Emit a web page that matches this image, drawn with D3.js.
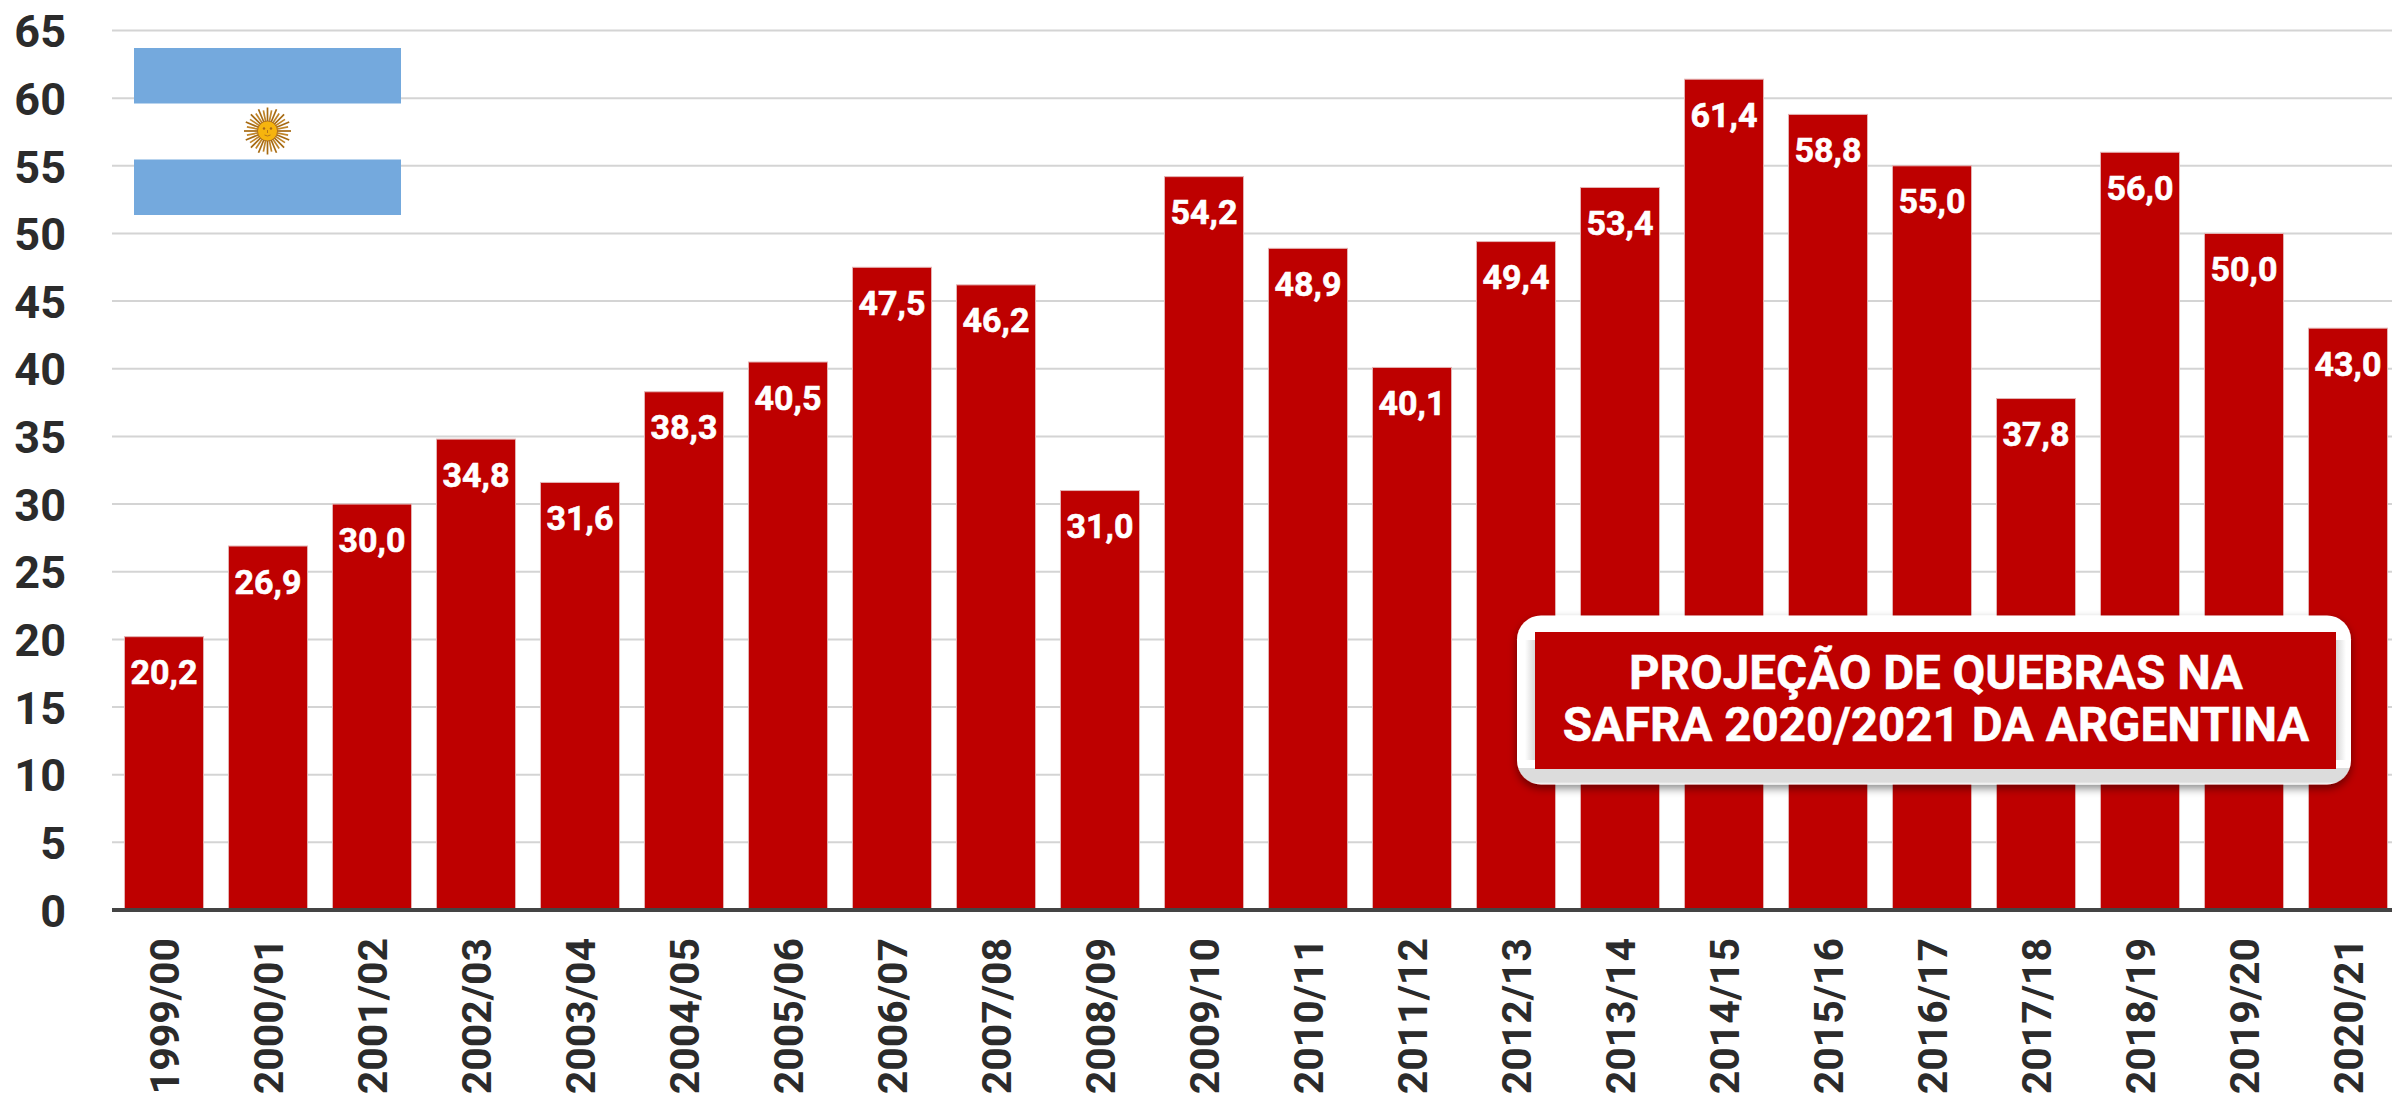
<!DOCTYPE html>
<html><head><meta charset="utf-8">
<script src="https://cdnjs.cloudflare.com/ajax/libs/d3/7.8.5/d3.min.js"></script>
<style>html,body{margin:0;padding:0;background:#fff;overflow:hidden}svg{display:block}text{font-family:Roboto,sans-serif;font-weight:700}</style>
</head><body><script>
const categories=["1999/00","2000/01","2001/02","2002/03","2003/04","2004/05","2005/06","2006/07","2007/08","2008/09","2009/10","2010/11","2011/12","2012/13","2013/14","2014/15","2015/16","2016/17","2017/18","2018/19","2019/20","2020/21"];
const values=[20.2,26.9,30.0,34.8,31.6,38.3,40.5,47.5,46.2,31.0,54.2,48.9,40.1,49.4,53.4,61.4,58.8,55.0,37.8,56.0,50.0,43.0];
const yTicks=[0,5,10,15,20,25,30,35,40,45,50,55,60,65];
const boxLines=["PROJEÇÃO DE QUEBRAS NA","SAFRA 2020/2021 DA ARGENTINA"];
const W=2392,H=1094;
const svg=d3.select("body").append("svg").attr("width",W).attr("height",H);
const x=d3.scaleBand().domain(categories).range([112,2400]).paddingInner(.24).paddingOuter(.12);
const y=d3.scaleLinear().domain([0,65]).range([910,30.5]);
const defs=svg.append("defs");
const f=defs.append("filter").attr("id","sh").attr("x","-5%").attr("y","-10%").attr("width","110%").attr("height","125%");
f.append("feDropShadow").attr("dx",0).attr("dy",4).attr("stdDeviation",4).attr("flood-color","#000").attr("flood-opacity",.45);
const lg=defs.append("linearGradient").attr("id","frame").attr("x1",0).attr("x2",0).attr("y1",0).attr("y2",1);
lg.append("stop").attr("offset",0).attr("stop-color","#fff");
lg.append("stop").attr("offset",.9).attr("stop-color","#fff");
lg.append("stop").attr("offset",.905).attr("stop-color","#dcdcdc");
lg.append("stop").attr("offset",.985).attr("stop-color","#dcdcdc");
lg.append("stop").attr("offset",1).attr("stop-color","#fff");
const gl=defs.append("linearGradient").attr("id","bevL");
gl.append("stop").attr("offset",0).attr("stop-color","#fff");
gl.append("stop").attr("offset",1).attr("stop-color","#d8d8d8");
const gr=defs.append("linearGradient").attr("id","bevR");
gr.append("stop").attr("offset",0).attr("stop-color","#d8d8d8");
gr.append("stop").attr("offset",1).attr("stop-color","#fff");

// grid
svg.append("g").selectAll("line").data(yTicks.filter(d=>d>0)).join("line")
 .attr("x1",112).attr("x2",W).attr("y1",d=>y(d)).attr("y2",d=>y(d))
 .attr("stroke","#d4d4d4").attr("stroke-width",2);

// y axis
const ya=svg.append("g").attr("transform","translate(66,0)").call(d3.axisLeft(y).tickValues(yTicks).tickSize(0).tickPadding(0).tickFormat(d3.format("d")));
ya.select(".domain").remove();
ya.selectAll("text").attr("fill","#2b2b2b").style("font-size","45px").attr("dy","0.36em");

// bars
svg.append("g").selectAll("rect").data(values).join("rect")
 .attr("x",(d,i)=>x(categories[i])).attr("width",x.bandwidth())
 .attr("y",d=>y(d)).attr("height",d=>y(0)-y(d))
 .attr("fill","#be0000").attr("stroke","#e3b4b4").attr("stroke-width",1);

// value labels
svg.append("g").selectAll("text").data(values).join("text")
 .attr("x",(d,i)=>x(categories[i])+x.bandwidth()/2).attr("y",d=>y(d)+47.5)
 .attr("text-anchor","middle")
 .attr("fill","#fff").attr("stroke","#fff").attr("stroke-width",.6).style("font-size","34px")
 .text(d=>d.toFixed(1).replace(".",","));

// baseline
svg.append("line").attr("x1",112).attr("x2",W).attr("y1",y(0)).attr("y2",y(0)).attr("stroke","#444").attr("stroke-width",4);

// x axis
const xa=svg.append("g").attr("transform",`translate(0,${y(0)})`).call(d3.axisBottom(x).tickSize(0));
xa.select(".domain").remove();
xa.selectAll("text").attr("fill","#2b2b2b").style("font-size","41px")
 .attr("text-anchor","end").attr("transform",d=>"rotate(-90)")
 .attr("x",-28).attr("y",0).attr("dy","0.36em");

// flag
const flag=svg.append("g");
flag.append("rect").attr("x",134).attr("y",48).attr("width",267).attr("height",167).attr("fill","#fff");
flag.selectAll(".st").data([[48,103.5],[159.5,215]]).join("rect").attr("x",134).attr("width",267)
 .attr("y",d=>d[0]).attr("height",d=>d[1]-d[0]).attr("fill","#74a9dd");
const sun=flag.append("g").attr("transform","translate(267.5,131)");
sun.selectAll("line").data(d3.range(32)).join("line")
 .attr("x1",0).attr("y1",0)
 .attr("x2",d=>Math.cos(d*Math.PI/16)*(d%2?21:23.5))
 .attr("y2",d=>Math.sin(d*Math.PI/16)*(d%2?21:23.5))
 .attr("stroke",d=>d%2?"#c08428":"#a66a12").attr("stroke-width",1.7);
sun.append("circle").attr("r",10).attr("fill","#f6b40e").attr("stroke","#a5661a").attr("stroke-width",.8);
sun.selectAll(".e").data([-3.5,3.5]).join("circle").attr("cx",d=>d).attr("cy",-2.5).attr("r",1.2).attr("fill","#a5661a");
sun.append("path").attr("d","M-3 4Q0 6 3 4M0 -1V2").attr("fill","none").attr("stroke","#a5661a").attr("stroke-width",.8);

// box
const b=svg.append("g");
b.append("rect").attr("x",1517).attr("y",615.5).attr("width",834).attr("height",169).attr("rx",24)
 .attr("fill","url(#frame)").attr("filter","url(#sh)");
b.append("rect").attr("x",1525).attr("y",640).attr("width",10).attr("height",120).attr("fill","url(#bevL)");
b.append("rect").attr("x",2336).attr("y",640).attr("width",10).attr("height",120).attr("fill","url(#bevR)");
b.append("rect").attr("x",1535).attr("y",632).attr("width",801).attr("height",137).attr("fill","#be0000");
b.selectAll("text").data(boxLines).join("text")
 .attr("text-anchor","middle").attr("fill","#fff").style("font-size","48px")
 .attr("stroke","#fff").attr("stroke-width",.5)
 .attr("transform",(d,i)=>`translate(1936,${[689,741][i]}) scale(.99,1)`)
 .text(d=>d);
</script></body></html>
